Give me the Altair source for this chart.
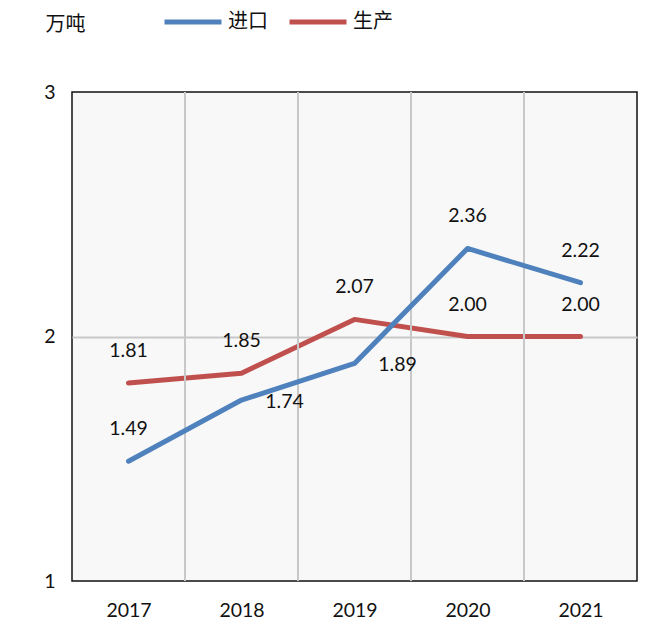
import altair as alt
import pandas as pd

years = [2017, 2018, 2019, 2020, 2021]
import_vals = [1.49, 1.74, 1.89, 2.36, 2.22]
prod_vals = [1.81, 1.85, 2.07, 2.00, 2.00]
import_label_pos = ["above", "right", "right", "above", "above"]
prod_label_pos = ["above", "above", "above", "above", "above"]
series_names = ["进口", "生产"]
series_colors = ["#4F81BD", "#C0504D"]
x_boundaries = [2017.5, 2018.5, 2019.5, 2020.5]
y_tick_step = 1

rows = []
for y, v, p in zip(years, import_vals, import_label_pos):
    rows.append({"year": y, "value": v, "series": "进口", "pos": p, "label": f"{v:.2f}"})
for y, v, p in zip(years, prod_vals, prod_label_pos):
    rows.append({"year": y, "value": v, "series": "生产", "pos": p, "label": f"{v:.2f}"})
df = pd.DataFrame(rows)

FONT = "Lato"
CJK = "Noto Sans CJK SC"
FS = 19.5

x_scale = alt.Scale(domain=[2016.5, 2021.5], nice=False, zero=False)
y_scale = alt.Scale(domain=[1, 3], nice=False, zero=False)

x_axis = alt.Axis(values=years, format="d", title=None, grid=False, ticks=False,
                  domain=False, labelFontSize=FS, labelFont=FONT, labelColor="#111",
                  labelPadding=20, labelFlush=False, labelOverlap=False)
y_axis = alt.Axis(tickCount=2, tickMinStep=y_tick_step, format="d", ticks=False, domain=False,
                  grid=True, gridWidth=2,
                  gridColor={"condition": {"test": "datum.value > 1.5 && datum.value < 2.5",
                                           "value": "#c8c8c8"},
                             "value": "transparent"},
                  labelFontSize=FS, labelFont=FONT, labelColor="#111", labelPadding=17,
                  labelOverlap=False, labelFlush=False, labelBound=False,
                  title="万吨", titleAngle=0, titleX=-27, titleY=-68, titleAlign="left",
                  titleBaseline="middle", titleFont=CJK, titleFontSize=20,
                  titleFontWeight="normal", titleColor="#111")

color = alt.Color("series:N",
                  scale=alt.Scale(domain=series_names, range=series_colors),
                  legend=alt.Legend(orient="none", legendX=90, legendY=-84,
                                    direction="horizontal", title=None,
                                    symbolType="stroke", symbolStrokeWidth=5,
                                    symbolSize=3249, clipHeight=28,
                                    labelFont=CJK, labelFontSize=20,
                                    labelColor="#111", labelOffset=4, columnPadding=19))

vgrid = alt.Chart(pd.DataFrame({"b": x_boundaries})).mark_rule(
    color="#c8c8c8", strokeWidth=2).encode(
    x=alt.X("b:Q", scale=x_scale, axis=x_axis))

base = alt.Chart(df)
enc_x = alt.X("year:Q", scale=x_scale, axis=x_axis)
enc_y = alt.Y("value:Q", scale=y_scale, axis=y_axis)

line_prod = base.transform_filter(alt.datum.series == "生产").mark_line(
    strokeWidth=5, strokeCap="round", strokeJoin="round").encode(x=enc_x, y=enc_y, color=color)
line_imp = base.transform_filter(alt.datum.series == "进口").mark_line(
    strokeWidth=5, strokeCap="round", strokeJoin="round").encode(x=enc_x, y=enc_y, color=color)

text_above = base.transform_filter(alt.datum.pos == "above").mark_text(
    dy=-32, fontSize=FS, font=FONT, color="#111").encode(x=enc_x, y=enc_y, text="label:N")
text_right = base.transform_filter(alt.datum.pos == "right").mark_text(
    dx=43, dy=2, fontSize=FS, font=FONT, color="#111").encode(x=enc_x, y=enc_y, text="label:N")

chart = alt.layer(line_prod, vgrid, line_imp, text_above, text_right).properties(
    width=565, height=489,
    autosize=alt.AutoSizeParams(type="none"),
    padding={"left": 64, "top": 84, "right": 6, "bottom": 44},
    background="white",
).configure_view(fill="#f8f8f8", stroke="#111", strokeWidth=1.5)

chart.save("out.html", embed_options={"renderer": "svg", "actions": False})
